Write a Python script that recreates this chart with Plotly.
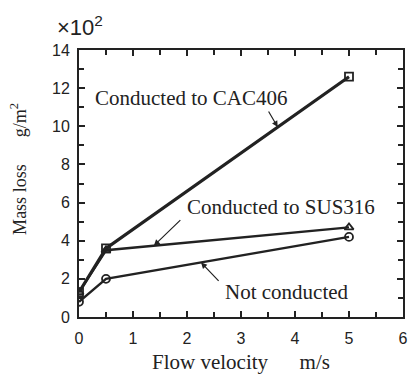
import plotly.graph_objects as go

velocity = [0, 0.5, 5]
cac406 = [1.3, 3.6, 12.6]
sus316 = [1.3, 3.5, 4.7]
not_conducted = [0.8, 2.0, 4.2]

x_ticks = [0, 1, 2, 3, 4, 5, 6]
y_ticks = [0, 2, 4, 6, 8, 10, 12, 14]

fig = go.Figure()
fig.add_trace(go.Scatter(x=velocity, y=not_conducted, mode="lines+markers",
                         line=dict(color="#222", width=2.4),
                         marker=dict(symbol="circle-open", size=8, color="#222", line=dict(width=1.8))))
fig.add_trace(go.Scatter(x=velocity, y=sus316, mode="lines+markers",
                         line=dict(color="#222", width=2.4),
                         marker=dict(symbol="triangle-up-open", size=8, color="#222", line=dict(width=1.8))))
fig.add_trace(go.Scatter(x=velocity, y=cac406, mode="lines+markers",
                         line=dict(color="#222", width=3.2),
                         marker=dict(symbol="square-open", size=8, color="#222", line=dict(width=1.8))))

tickfont = dict(family="Liberation Sans", size=16, color="#222")
axis_common = dict(showline=True, linecolor="#222", linewidth=2, mirror="ticks",
                   ticks="inside", ticklen=6, tickwidth=1.5, tickcolor="#222",
                   showgrid=False, zeroline=False, tickfont=tickfont)

fig.update_xaxes(range=[0, 6], tickvals=x_ticks, ticktext=[str(v) for v in x_ticks],
                 minor=dict(ticks="inside", ticklen=5, tickwidth=1.5, tickcolor="#222", dtick=0.5),
                 ticklabelstandoff=6, **axis_common)
fig.update_yaxes(range=[0, 14], tickvals=y_ticks, ticktext=[str(v) for v in y_ticks],
                 minor=dict(ticks="inside", ticklen=5, tickwidth=1.5, tickcolor="#222", dtick=1),
                 ticklabelstandoff=4, **axis_common)

serif = "Liberation Serif"
ann_font = dict(family=serif, size=21, color="#222")
annotations = [
    dict(x=0.043, y=0.82, xref="paper", yref="paper", text="Conducted to CAC406", showarrow=False,
         xanchor="left", yanchor="middle", font=ann_font),
    dict(x=3.68, y=9.96, xref="x", yref="y", ax=-10, ay=-17, showarrow=True, arrowhead=2,
         arrowsize=1, arrowwidth=1.2, arrowcolor="#222", text=""),
    dict(x=3.74, y=5.77, xref="x", yref="y", text="Conducted to SUS316", showarrow=False,
         xanchor="center", yanchor="middle", font=ann_font),
    dict(x=1.386, y=3.74, xref="x", yref="y", ax=28, ay=-27, showarrow=True, arrowhead=2,
         arrowsize=1, arrowwidth=1.2, arrowcolor="#222", text=""),
    dict(x=3.85, y=1.31, xref="x", yref="y", text="Not conducted", showarrow=False,
         xanchor="center", yanchor="middle", font=ann_font),
    dict(x=2.26, y=2.86, xref="x", yref="y", ax=19, ay=20, showarrow=True, arrowhead=2,
         arrowsize=1, arrowwidth=1.2, arrowcolor="#222", text=""),
    dict(x=0.5, y=-0.169, xref="paper", yref="paper",
         text="Flow velocity      m/s", showarrow=False, xanchor="center", yanchor="middle",
         font=dict(family=serif, size=21, color="#222")),
    dict(x=-0.185, y=0.555, xref="paper", yref="paper", textangle=-90,
         text="Mass loss      g/m<sup>2</sup>", showarrow=False, xanchor="center", yanchor="middle",
         font=dict(family=serif, size=18, color="#222")),
    dict(x=-0.075, y=1.03, xref="paper", yref="paper",
         text="×10<sup>2</sup>", showarrow=False, xanchor="left", yanchor="bottom",
         font=dict(family="Liberation Sans", size=22, color="#222")),
]

fig.update_layout(width=416, height=378, margin=dict(l=79, r=8, t=50, b=61),
                  paper_bgcolor="white", plot_bgcolor="white", showlegend=False,
                  annotations=annotations)

fig.write_html("out.html")
